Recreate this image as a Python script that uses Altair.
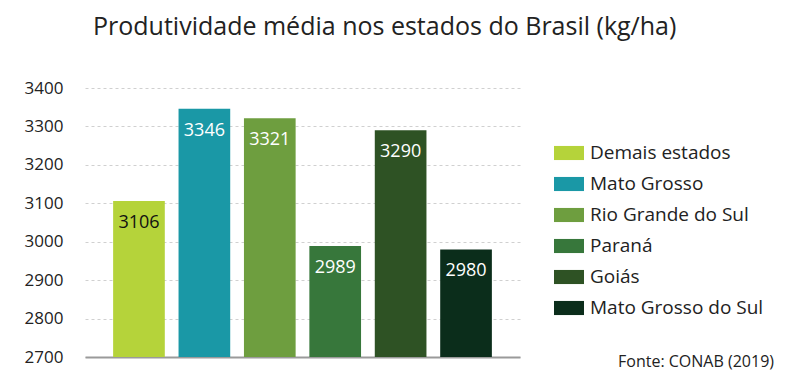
import altair as alt
import pandas as pd

estados = ["Demais estados", "Mato Grosso", "Rio Grande do Sul", "Paraná", "Goiás", "Mato Grosso do Sul"]
produtividade = [3106, 3346, 3321, 2989, 3290, 2980]
cores = ["#b5d33a", "#1a98a6", "#6e9e3f", "#37773b", "#2e5224", "#0b2d1b"]
y_ticks = [2700, 2800, 2900, 3000, 3100, 3200, 3300, 3400]
titulo = "Produtividade média nos estados do Brasil (kg/ha)"
fonte = "Fonte: CONAB (2019)"

df = pd.DataFrame({"estado": estados, "valor": produtividade})

FONT = "Open Sans"

x_enc = alt.X("estado:N", sort=estados, axis=alt.Axis(labels=False, ticks=False, title=None,
              domainColor="#9a9a9a", domainWidth=2),
              scale=alt.Scale(paddingInner=0.21, paddingOuter=0.43))
y_enc = alt.Y("valor:Q", scale=alt.Scale(domain=[2700, 3400], zero=False, clamp=True, nice=False),
              axis=alt.Axis(values=y_ticks, title=None, ticks=False, domain=False, format="d",
                            labelOverlap=False, labelFontSize=17, labelColor="#222222", labelPadding=22,
                            labelFont=FONT, grid=True, gridDash=[3, 3], gridColor="#d0d0d0"))

base = alt.Chart(df).encode(x=x_enc, y=y_enc)

bars = base.mark_bar().encode(
    y2=alt.datum(2700),
    color=alt.Color("estado:N", sort=estados,
                    scale=alt.Scale(domain=estados, range=cores),
                    legend=alt.Legend(orient="none", legendX=469, legendY=50, title=None,
                                      symbolType="M-1,-0.47H1V0.47H-1Z", symbolSize=900,
                                      symbolStrokeWidth=0, symbolOpacity=1,
                                      labelFontSize=19, labelFont=FONT, labelColor="#222222",
                                      labelOffset=6, rowPadding=6, labelLimit=300)),
)

labels = base.mark_text(dy=22, fontSize=18, font=FONT, baseline="middle").encode(
    text=alt.Text("valor:Q", format="d"),
    color=alt.condition(alt.datum.estado == "Demais estados", alt.value("#111111"), alt.value("white")),
)

source = alt.Chart(pd.DataFrame({"t": [fonte]})).mark_text(
    align="right", baseline="middle", fontSize=16, font=FONT, color="#222222"
).encode(x=alt.value(689), y=alt.value(274), text="t:N")

chart = alt.layer(bars, labels, source).properties(
    width=435, height=269,
    title=alt.TitleParams(titulo, anchor="start", frame="group", dx=8, offset=39,
                          fontSize=25, font=FONT, fontWeight="normal", color="#222222"),
    autosize=alt.AutoSizeParams(type="none"),
    padding={"left": 77, "top": 80, "right": 262, "bottom": 25},
).configure_view(stroke=None)

chart.save("out.html", embed_options={"renderer": "svg", "actions": False})
